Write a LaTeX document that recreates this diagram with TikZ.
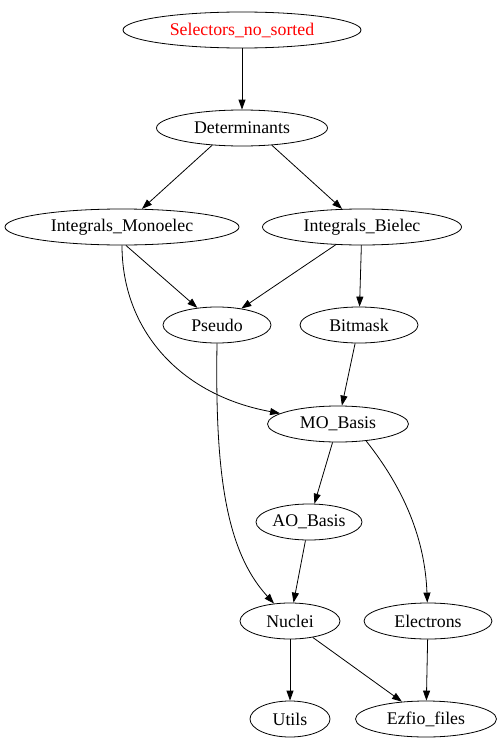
\documentclass[tikz,border=0pt]{standalone}
\usepackage{fontspec}
\setmainfont{Liberation Serif}
\usetikzlibrary{shapes.geometric,arrows.meta}
\newcommand\gvt[1]{\makebox[0pt]{#1}}
\begin{document}
\begin{tikzpicture}[x=1pt,y=-1pt,
  en/.style={draw,ellipse,inner sep=0pt,minimum height=36pt,line width=0.8pt,font=\fontsize{17.8}{20}\selectfont},
  ar/.style={-{Triangle[length=10pt,width=7pt]},line width=0.8pt}]
\useasboundingbox (0,0) rectangle (503,752);
\node[en,minimum width=238pt,text=red] (sel) at (242,30) {\gvt{Selectors\_no\_sorted}};
\node[en,minimum width=171pt] (det) at (242,128) {\gvt{Determinants}};
\node[en,minimum width=234pt] (im) at (122,227) {\gvt{Integrals\_Monoelec}};
\node[en,minimum width=199pt] (ib) at (362,227) {\gvt{Integrals\_Bielec}};
\node[en,minimum width=108pt] (ps) at (217,325) {\gvt{Pseudo}};
\node[en,minimum width=118pt] (bm) at (359,325) {\gvt{Bitmask}};
\node[en,minimum width=141pt] (mo) at (338,424) {\gvt{MO\_Basis}};
\node[en,minimum width=106pt] (ao) at (309,522) {\gvt{AO\_Basis}};
\node[en,minimum width=100pt] (nu) at (290,621) {\gvt{Nuclei}};
\node[en,minimum width=128pt] (el) at (428,621) {\gvt{Electrons}};
\node[en,minimum width=80pt] (ut) at (290,719) {\gvt{Utils}};
\node[en,minimum width=141pt] (ez) at (426,719) {\gvt{Ezfio\_files}};
\draw[ar] (sel) -- (det);
\draw[ar] (det.-150) -- (im);
\draw[ar] (det.-30) -- (ib);
\draw[ar] (im.-78) -- (ps);
\draw[ar] (im.-90) .. controls (122,330) and (180,395) .. (mo);
\draw[ar] (ib) -- (ps);
\draw[ar] (ib.-92) -- (bm);
\draw[ar] (ps.-90) .. controls (215,470) and (225,550) .. (nu);
\draw[ar] (bm) -- (mo);
\draw[ar] (mo) -- (ao);
\draw[ar] (mo.-31) .. controls (405,490) and (425,540) .. (el);
\draw[ar] (ao) -- (nu);
\draw[ar] (nu) -- (ut);
\draw[ar] (nu) -- (ez);
\draw[ar] (el) -- (ez);
\end{tikzpicture}
\end{document}
